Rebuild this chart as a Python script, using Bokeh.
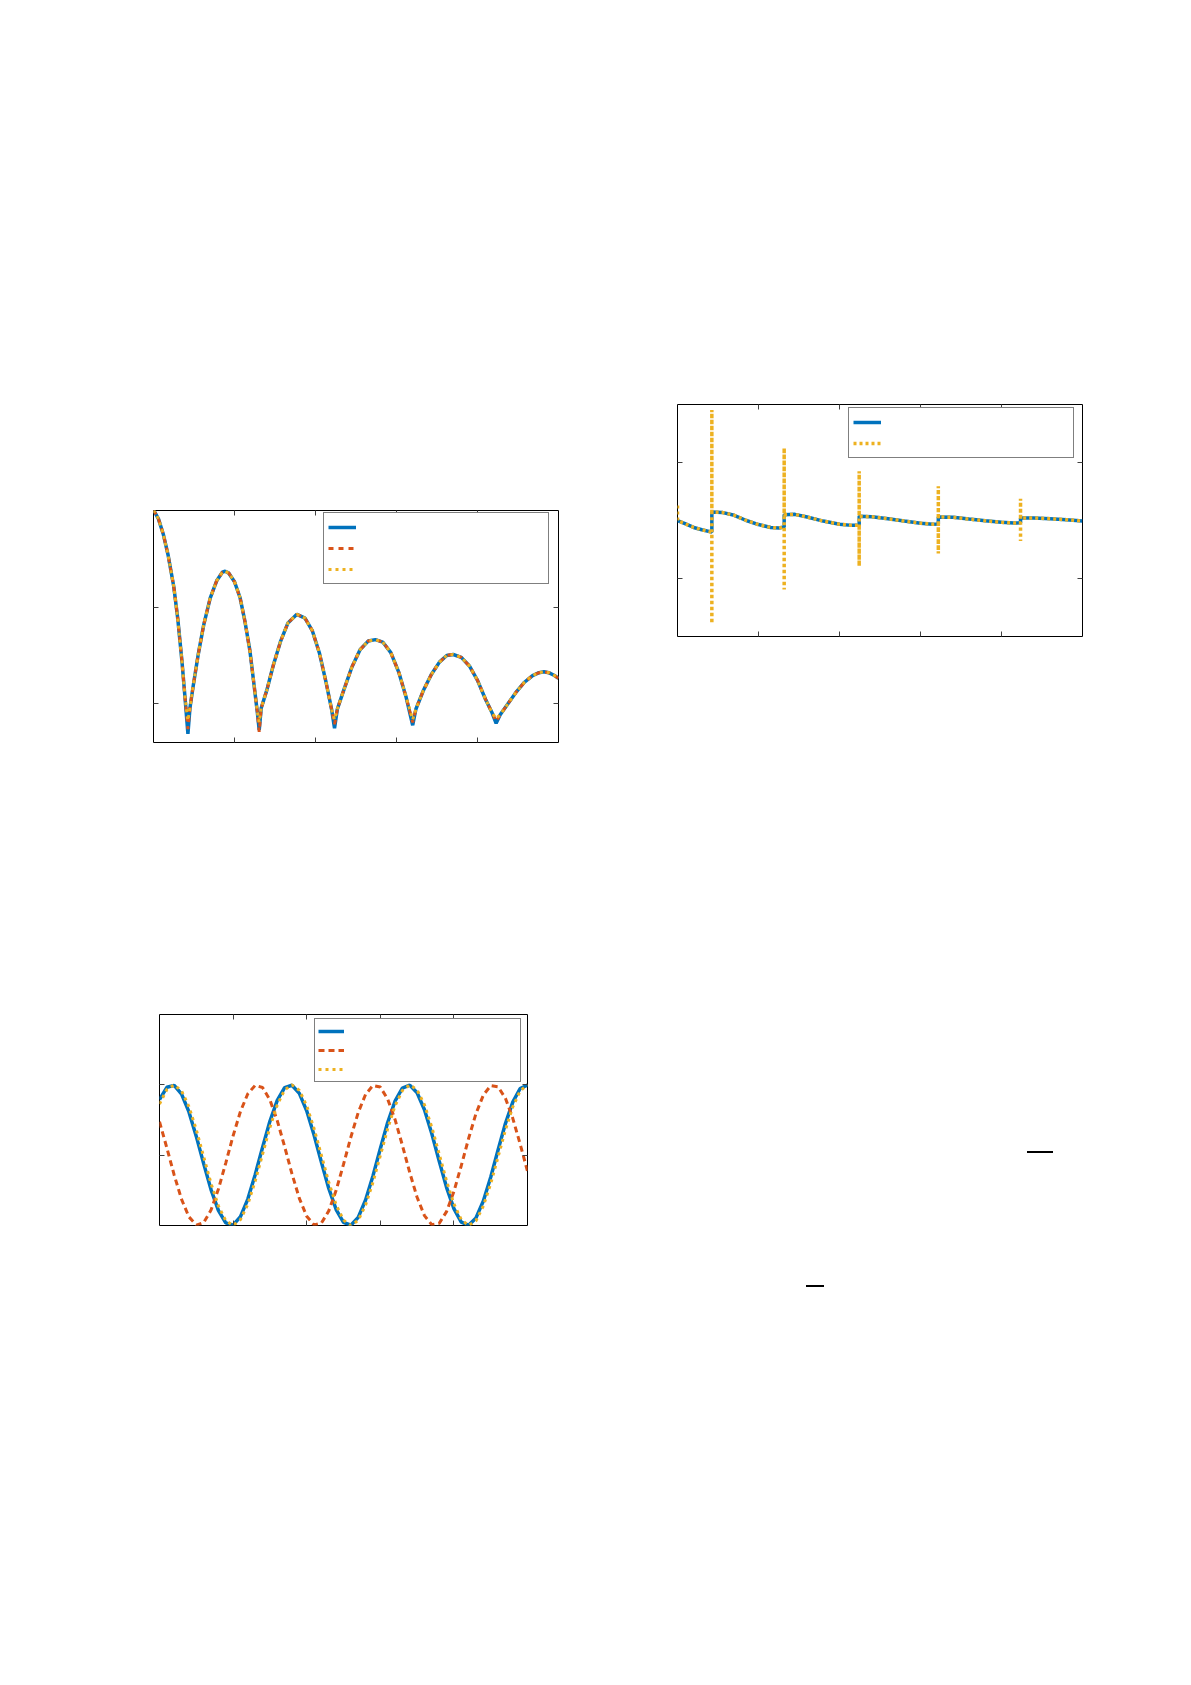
from bokeh.plotting import figure
from bokeh.models import (FixedTicker, LinearAxis, Legend, LegendItem, Range1d, Div,
                          Spacer, CustomJSTickFormatter)
from bokeh.layouts import row, column
from bokeh.embed import file_html
from bokeh.resources import INLINE

# ---------------- data ----------------
BLUE = "#0072BD"
ORANGE = "#D95319"
YELLOW = "#EDB120"

# Plot 1 (decaying arcs with sharp minima)
x1 = [0.00, 0.06, 0.12, 0.18, 0.25, 0.30, 0.35, 0.39, 0.425,
      0.45, 0.49, 0.55, 0.62, 0.70, 0.78, 0.85, 0.885, 0.93, 1.00, 1.07, 1.13, 1.19, 1.24, 1.28, 1.305,
      1.33, 1.40, 1.48, 1.57, 1.66, 1.77, 1.87, 1.96, 2.05, 2.13, 2.20, 2.235,
      2.27, 2.35, 2.45, 2.55, 2.65, 2.74, 2.83, 2.93, 3.03, 3.12, 3.20,
      3.24, 3.33, 3.43, 3.53, 3.62, 3.70, 3.80, 3.90, 4.00, 4.10, 4.18, 4.23,
      4.28, 4.38, 4.48, 4.58, 4.68, 4.76, 4.82, 4.88, 4.95, 5.00]
y1_blue = [2.02, 1.93, 1.77, 1.55, 1.22, 0.88, 0.45, 0.05, -0.32,
           -0.05, 0.18, 0.50, 0.82, 1.10, 1.28, 1.37, 1.38, 1.36, 1.27, 1.10, 0.85, 0.55, 0.20, -0.08, -0.28,
           -0.05, 0.14, 0.40, 0.65, 0.84, 0.93, 0.89, 0.76, 0.52, 0.22, -0.07, -0.26,
           -0.06, 0.14, 0.38, 0.56, 0.65, 0.665, 0.64, 0.53, 0.32, 0.06, -0.23,
           -0.06, 0.13, 0.30, 0.43, 0.50, 0.51, 0.48, 0.39, 0.24, 0.04, -0.10, -0.21,
           -0.12, 0.00, 0.12, 0.22, 0.29, 0.32, 0.33, 0.32, 0.29, 0.26]
y1_orange = [2.02, 1.93, 1.77, 1.55, 1.22, 0.88, 0.45, 0.05, -0.27,
             -0.05, 0.18, 0.50, 0.82, 1.10, 1.28, 1.37, 1.38, 1.36, 1.27, 1.10, 0.85, 0.55, 0.20, -0.08, -0.30,
             -0.05, 0.14, 0.40, 0.65, 0.84, 0.93, 0.89, 0.76, 0.52, 0.22, -0.07, -0.22,
             -0.06, 0.14, 0.38, 0.56, 0.65, 0.665, 0.64, 0.53, 0.32, 0.06, -0.20,
             -0.06, 0.13, 0.30, 0.43, 0.50, 0.51, 0.48, 0.39, 0.24, 0.04, -0.10, -0.19,
             -0.12, 0.00, 0.12, 0.22, 0.29, 0.32, 0.33, 0.32, 0.29, 0.26]
y1_yellow = [2.02, 1.93, 1.77, 1.55, 1.22, 0.88, 0.45, 0.05, -0.18,
             -0.05, 0.18, 0.50, 0.82, 1.10, 1.28, 1.37, 1.38, 1.36, 1.27, 1.10, 0.85, 0.55, 0.20, -0.08, -0.20,
             -0.05, 0.14, 0.40, 0.65, 0.84, 0.93, 0.89, 0.76, 0.52, 0.22, -0.07, -0.17,
             -0.06, 0.14, 0.38, 0.56, 0.65, 0.665, 0.64, 0.53, 0.32, 0.06, -0.17,
             -0.06, 0.13, 0.30, 0.43, 0.50, 0.51, 0.48, 0.39, 0.24, 0.04, -0.10, -0.16,
             -0.12, 0.00, 0.12, 0.22, 0.29, 0.32, 0.33, 0.32, 0.29, 0.26]

# Plot 2 (piecewise smooth curve with jumps; yellow has spikes at the jumps)
x2_blue = [0.00, 0.10, 0.20, 0.30, 0.424,
           0.424, 0.55, 0.70, 0.85, 1.00, 1.15, 1.25, 1.317,
           1.317, 1.45, 1.60, 1.80, 2.00, 2.15, 2.243,
           2.243, 2.40, 2.60, 2.80, 3.00, 3.15, 3.22,
           3.22, 3.40, 3.60, 3.80, 4.00, 4.15, 4.235,
           4.235, 4.40, 4.60, 4.80, 5.00]
y2_blue = [0.50, 0.47, 0.44, 0.42, 0.40,
           0.573, 0.57, 0.545, 0.50, 0.465, 0.44, 0.435, 0.444,
           0.55, 0.553, 0.53, 0.495, 0.468, 0.458, 0.46,
           0.536, 0.532, 0.515, 0.495, 0.477, 0.468, 0.47,
           0.53, 0.528, 0.512, 0.497, 0.484, 0.478, 0.48,
           0.521, 0.522, 0.515, 0.507, 0.495]
x2_yellow = [0.00, 0.00, 0.10, 0.20, 0.30, 0.424, 0.424, 0.424, 0.424,
             0.55, 0.70, 0.85, 1.00, 1.15, 1.25, 1.317, 1.317, 1.317, 1.317,
             1.45, 1.60, 1.80, 2.00, 2.15, 2.243, 2.243, 2.243, 2.243,
             2.40, 2.60, 2.80, 3.00, 3.15, 3.22, 3.22, 3.22, 3.22,
             3.40, 3.60, 3.80, 4.00, 4.15, 4.235, 4.235, 4.235, 4.235,
             4.40, 4.60, 4.80, 5.00]
y2_yellow = [0.63, 0.50, 0.47, 0.44, 0.42, 0.40, -0.387, 1.453, 0.573,
             0.57, 0.545, 0.50, 0.465, 0.44, 0.435, 0.444, -0.095, 1.126, 0.55,
             0.553, 0.53, 0.495, 0.468, 0.458, 0.46, 0.106, 0.925, 0.536,
             0.532, 0.515, 0.495, 0.477, 0.468, 0.47, 0.215, 0.796, 0.53,
             0.528, 0.512, 0.497, 0.484, 0.478, 0.48, 0.323, 0.688, 0.521,
             0.522, 0.515, 0.507, 0.495]

# Plot 3 (oscillations)
x3 = [0.0, 0.1, 0.2, 0.3, 0.4, 0.5, 0.6, 0.7, 0.8, 0.9,
      1.0, 1.1, 1.2, 1.3, 1.4, 1.5, 1.6, 1.7, 1.8, 1.9,
      2.0, 2.1, 2.2, 2.3, 2.4, 2.5, 2.6, 2.7, 2.8, 2.9,
      3.0, 3.1, 3.2, 3.3, 3.4, 3.5, 3.6, 3.7, 3.8, 3.9,
      4.0, 4.1, 4.2, 4.3, 4.4, 4.5, 4.6, 4.7, 4.8, 4.9, 5.0]
y3_blue = [0.791, 0.965, 0.992, 0.869, 0.615, 0.267, -0.120, -0.489, -0.785, -0.963,
           -0.994, -0.874, -0.624, -0.277, 0.110, 0.481, 0.780, 0.960, 0.994, 0.879,
           0.630, 0.286, -0.101, -0.473, -0.773, -0.957, -0.996, -0.884, -0.637, -0.295,
           0.092, 0.465, 0.767, 0.954, 0.996, 0.887, 0.645, 0.304, -0.082, -0.457,
           -0.761, -0.951, -0.997, -0.892, -0.652, -0.313, 0.073, 0.449, 0.755, 0.948, 0.998]
y3_orange = [0.475, 0.103, -0.284, -0.629, -0.878, -0.994, -0.960, -0.781, -0.484, -0.112,
             0.275, 0.622, 0.873, 0.993, 0.963, 0.786, 0.492, 0.122, -0.266, -0.614,
             -0.869, -0.992, -0.965, -0.792, -0.500, -0.131, 0.257, 0.607, 0.864, 0.991,
             0.968, 0.798, 0.508, 0.140, -0.248, -0.599, -0.860, -0.989, -0.970, -0.803,
             -0.516, -0.150, 0.238, 0.591, 0.854, 0.988, 0.972, 0.809, 0.524, 0.159, -0.229]
y3_yellow = [0.728, 0.934, 1.000, 0.913, 0.690, 0.360, -0.022, -0.402, -0.722, -0.931,
             -1.000, -0.917, -0.697, -0.370, 0.013, 0.394, 0.714, 0.928, 1.000, 0.921,
             0.703, 0.378, -0.003, -0.385, -0.707, -0.924, -1.000, -0.925, -0.709, -0.387,
             -0.006, 0.376, 0.701, 0.920, 1.000, 0.928, 0.716, 0.396, 0.016, -0.367,
             -0.694, -0.917, -1.000, -0.932, -0.723, -0.405, -0.025, 0.358, 0.687, 0.913, 1.000]

x_ticks = [1, 2, 3, 4]
y_ticks = [0, 1]


# ---------------- helpers ----------------
def make_fig(left, top, right, bottom, fw, fh, xr, yr):
    p = figure(frame_width=fw, frame_height=fh,
               x_range=Range1d(*xr), y_range=Range1d(*yr),
               output_backend="svg", toolbar_location=None,
               min_border_left=left, min_border_top=top,
               min_border_right=right, min_border_bottom=bottom,
               background_fill_color="white", border_fill_color="white")
    p.grid.visible = False
    p.outline_line_color = "black"
    p.outline_line_width = 1
    p.add_layout(LinearAxis(), "above")
    p.add_layout(LinearAxis(), "right")
    for ax in p.xaxis:
        ax.ticker = FixedTicker(ticks=x_ticks)
    for ax in p.yaxis:
        ax.ticker = FixedTicker(ticks=y_ticks)
    for ax in list(p.xaxis) + list(p.yaxis):
        ax.axis_line_color = None
        ax.major_tick_in = 5
        ax.major_tick_out = 0
        ax.major_tick_line_color = "#404040"
        ax.major_tick_line_width = 1
        ax.minor_tick_line_color = None
        ax.formatter = CustomJSTickFormatter(code="return ''")
        ax.major_label_standoff = 0
        ax.axis_label = None
    return p


def add_legend(p, renderers, loc, glyph_w, glyph_h, pad, label_w):
    items = [LegendItem(label=" ", renderers=[r]) for r in renderers]
    leg = Legend(items=items, location=loc, glyph_width=glyph_w, glyph_height=glyph_h,
                 padding=pad, spacing=1, margin=0, label_width=label_w,
                 label_standoff=5, label_text_font_size="10px",
                 border_line_color="black", border_line_width=1,
                 background_fill_color="white", background_fill_alpha=1.0)
    p.add_layout(leg, "center")


# ---------------- plot 1 ----------------
p1 = make_fig(153, 404, 60, 20, 405, 232, (0, 5), (-0.41, 2.015))
r1a = p1.line(x1, y1_blue, line_color=BLUE, line_width=3.5)
r1b = p1.line(x1, y1_orange, line_color=ORANGE, line_width=3, line_dash="5 5")
r1c = p1.line(x1, y1_yellow, line_color=YELLOW, line_width=3, line_dash="3 4")
add_legend(p1, [r1a, r1b, r1c], (170, 158), 28, 20, 4, 183)

# ---------------- plot 2 ----------------
p2 = make_fig(59, 404, 20, 126, 405, 232, (0, 5), (-0.5, 1.5))
r2a = p2.line(x2_blue, y2_blue, line_color=BLUE, line_width=3.5)
r2c = p2.line(x2_yellow, y2_yellow, line_color=YELLOW, line_width=3.5, line_dash="3 3")
add_legend(p2, [r2a, r2c], (171, 178), 28, 20, 4, 183)

# ---------------- plot 3 ----------------
p3 = make_fig(159, 252, 20, 20, 368, 211, (0, 5), (-1, 2))
r3a = p3.line(x3, y3_blue, line_color=BLUE, line_width=3.5)
r3b = p3.line(x3, y3_orange, line_color=ORANGE, line_width=3, line_dash="6 4")
r3c = p3.line(x3, y3_yellow, line_color=YELLOW, line_width=3, line_dash="3 4")
add_legend(p3, [r3a, r3b, r3c], (155, 143), 26, 18, 3, 168)

# small rules from the page's (unrendered) equations
bars = Div(text=(
    '<div style="position:relative;left:475px;top:376px;width:26px;height:2px;background:#000"></div>'
    '<div style="position:relative;left:254px;top:508px;width:18px;height:2px;background:#000"></div>'
), width=560, height=540)

layout = column(row(column(Spacer(width=10, height=106), p1), p2), row(p3, bars))

open("out.html", "w").write(file_html(layout, INLINE))
